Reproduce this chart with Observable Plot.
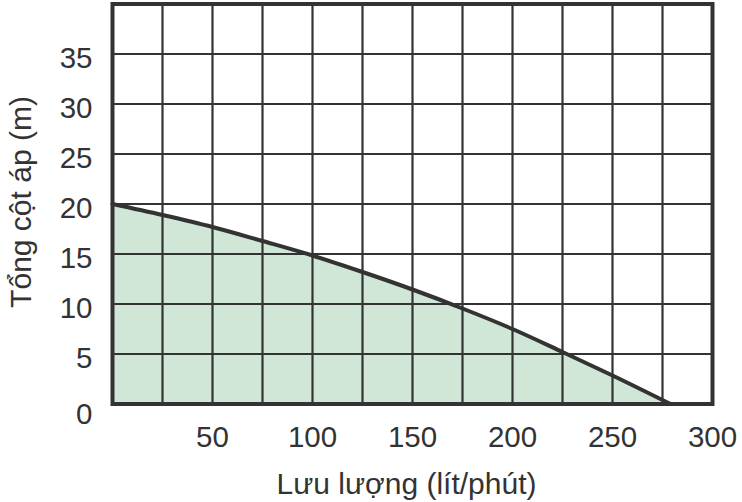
<!DOCTYPE html>
<html>
<head>
<meta charset="utf-8">
<script src="https://cdn.jsdelivr.net/npm/d3@7"></script>
<script src="https://cdn.jsdelivr.net/npm/@observablehq/plot@0.6"></script>
<style>
  html, body { margin: 0; padding: 0; background: #fff; }
  #chart svg { display: block; }
</style>
</head>
<body>
<div id="chart"></div>
<script>
const flow = [0, 25, 50, 75, 100, 125, 150, 175, 200, 225, 250, 279];
const head = [20, 18.9, 17.7, 16.3, 14.85, 13.2, 11.45, 9.55, 7.5, 5.2, 2.85, 0];
const xGrid = [0, 25, 50, 75, 100, 125, 150, 175, 200, 225, 250, 275, 300];
const yGrid = [0, 5, 10, 15, 20, 25, 30, 35, 40];
const xTickLabels = [50, 100, 150, 200, 250, 300];
const yTickLabels = [5, 10, 15, 20, 25, 30, 35];
const yZeroLabel = [0];
const xTitle = "Lưu lượng (lít/phút)";
const yTitle = "Tổng cột áp (m)";

const data = flow.map((f, i) => ({ flow: f, head: head[i] }));
const ink = "#333333";
const font = "Liberation Sans, Arial, Helvetica, sans-serif";

const chart = Plot.plot({
  width: 742,
  height: 502,
  marginLeft: 112,
  marginRight: 30,
  marginTop: 3.5,
  marginBottom: 98.5,
  style: { fontFamily: font, background: "#fff", overflow: "visible" },
  x: { domain: [0, 300], axis: null },
  y: { domain: [0, 40], axis: null },
  marks: [
    Plot.areaY(data, { x: "flow", y: "head", fill: "#d0e7d7", curve: "monotone-x" }),
    Plot.ruleX(xGrid, { stroke: ink, strokeWidth: 2.2, strokeOpacity: 1 }),
    Plot.ruleY(yGrid, { stroke: ink, strokeWidth: 2.2, strokeOpacity: 1 }),
    Plot.line(data, { x: "flow", y: "head", stroke: ink, strokeWidth: 4, curve: "monotone-x" }),
    Plot.frame({ stroke: ink, strokeWidth: 4 }),
    Plot.text(yTickLabels, { x: 0, y: d => d, text: d => String(d), textAnchor: "end", dx: -20, dy: 4.5, fontSize: 29.5, fill: ink }),
    Plot.text(yZeroLabel, { x: 0, y: d => d, text: d => String(d), textAnchor: "end", dx: -20, dy: 10.5, fontSize: 29.5, fill: ink }),
    Plot.text(xTickLabels, { x: d => d, y: 0, text: d => String(d), textAnchor: "middle", dy: 34, fontSize: 29.5, fill: ink }),
    Plot.text([xTitle], { x: 147, y: 0, text: d => d, textAnchor: "middle", dy: 80, fontSize: 30, fill: ink }),
    Plot.text([yTitle], { x: 0, y: 20.2, text: d => d, textAnchor: "middle", rotate: -90, dx: -91, fontSize: 30, fill: ink })
  ]
});
document.getElementById("chart").appendChild(chart);
</script>
</body>
</html>
